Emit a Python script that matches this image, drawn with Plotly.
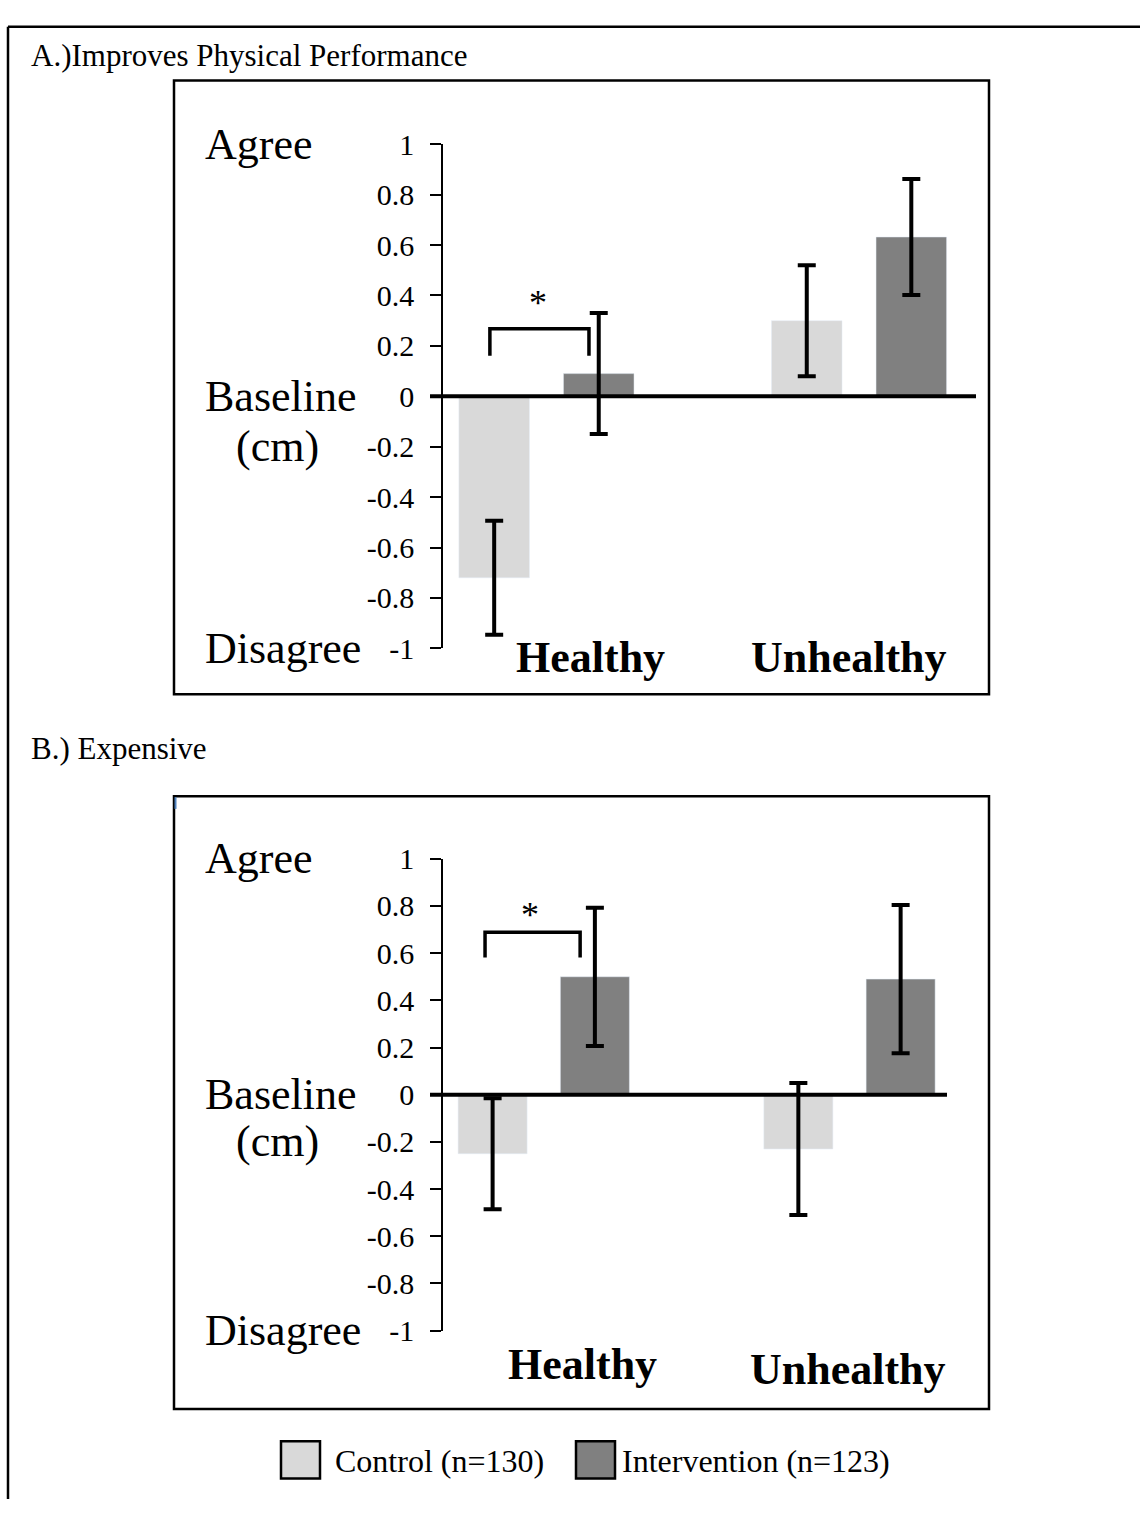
import plotly.graph_objects as go

W, H = 1140, 1515

categories = ["Healthy", "Unhealthy"]

# Panel A: Improves Physical Performance
a_control = [-0.72, 0.30]
a_control_err = [0.226, 0.22]
a_interv = [0.09, 0.632]
a_interv_err = [0.24, 0.23]

# Panel B: Expensive
b_control = [-0.25, -0.23]
b_control_err = [0.235, 0.28]
b_interv = [0.50, 0.49]
b_interv_err = [0.293, 0.314]

tick_vals = [1, 0.8, 0.6, 0.4, 0.2, 0, -0.2, -0.4, -0.6, -0.8, -1]
tick_text = ["1", "0.8", "0.6", "0.4", "0.2", "0", "-0.2", "-0.4", "-0.6", "-0.8", "-1"]

series_names = ["Control (n=130)", "Intervention (n=123)"]
titles = ["A.)Improves Physical Performance", "B.) Expensive"]

C_LIGHT = "#d9d9d9"
C_DARK = "#808080"
SERIF = "Liberation Serif, Times New Roman, serif"


def px(x):
    return x / W


def py(y):
    return 1 - y / H


fig = go.Figure()

err_style = dict(type="data", symmetric=True, color="black", thickness=4, width=9)

fig.add_trace(go.Bar(x=categories, y=a_control, name=series_names[0], marker_color=C_LIGHT,
                     error_y=dict(array=a_control_err, **err_style), xaxis="x", yaxis="y",
                     showlegend=False))
fig.add_trace(go.Bar(x=categories, y=a_interv, name=series_names[1], marker_color=C_DARK,
                     error_y=dict(array=a_interv_err, **err_style), xaxis="x", yaxis="y",
                     showlegend=False))
fig.add_trace(go.Bar(x=categories, y=b_control, name=series_names[0], marker_color=C_LIGHT,
                     error_y=dict(array=b_control_err, **err_style), xaxis="x2", yaxis="y2",
                     showlegend=False))
fig.add_trace(go.Bar(x=categories, y=b_interv, name=series_names[1], marker_color=C_DARK,
                     error_y=dict(array=b_interv_err, **err_style), xaxis="x2", yaxis="y2",
                     showlegend=False))

yax = dict(range=[-1, 1], tickvals=tick_vals, ticktext=tick_text, showline=True,
           linecolor="black", linewidth=1.5, ticks="outside", ticklen=11, tickwidth=1.5,
           tickcolor="black", showgrid=False, zeroline=False, ticklabelstandoff=10,
           tickfont=dict(family=SERIF, size=30, color="black"))
xax = dict(type="category", showticklabels=False, showline=False, showgrid=False,
           zeroline=False, ticks="", domain=[px(443), px(975)])

fig.update_layout(
    width=W, height=H, margin=dict(l=0, r=0, t=0, b=0),
    paper_bgcolor="white", plot_bgcolor="rgba(0,0,0,0)",
    barmode="group", bargap=0.331, bargroupgap=0.325,
    showlegend=False,
    xaxis=dict(**xax, range=[-0.331, 1.371], anchor="y"),
    yaxis=dict(**yax, domain=[py(646), py(131)], anchor="x"),
    xaxis2=dict(**xax, range=[-0.3295, 1.4105], anchor="y2"),
    yaxis2=dict(**yax, domain=[py(1343), py(861)], anchor="x2"),
)

shapes = []
# outer frame (top and left only)
shapes.append(dict(type="line", xref="paper", yref="paper", x0=px(8), x1=1.0, y0=py(11), y1=py(11),
                   line=dict(color="black", width=2.5)))
shapes.append(dict(type="line", xref="paper", yref="paper", x0=px(8), x1=px(8), y0=py(11), y1=0,
                   line=dict(color="black", width=2.5)))
# panel boxes
shapes.append(dict(type="rect", xref="paper", yref="paper", x0=px(174), x1=px(989), y0=py(693), y1=py(66),
                   line=dict(color="black", width=2.5)))
shapes.append(dict(type="rect", xref="paper", yref="paper", x0=px(174), x1=px(989), y0=py(1423), y1=py(797),
                   line=dict(color="black", width=2.5)))
shapes.append(dict(type="line", xref="paper", yref="paper", x0=px(175.5), x1=px(175.5), y0=py(798), y1=py(810),
                   line=dict(color="#4f81bd", width=2)))
# zero (baseline) lines
shapes.append(dict(type="line", xref="paper", yref="y", x0=px(430), x1=px(976), y0=0, y1=0,
                   line=dict(color="black", width=4)))
shapes.append(dict(type="line", xref="paper", yref="y2", x0=px(430), x1=px(947), y0=0, y1=0,
                   line=dict(color="black", width=4)))
# significance brackets
for xr, yr, xl, xrr, ytop, ybot in [("x", "y", -0.181, 0.136, 0.268, 0.161),
                                     ("x2", "y2", -0.192, 0.119, 0.689, 0.582)]:
    shapes.append(dict(type="path", xref=xr, yref=yr,
                       path=f"M {xl} {ybot} L {xl} {ytop} L {xrr} {ytop} L {xrr} {ybot}",
                       line=dict(color="black", width=3.5)))
# legend swatches
shapes.append(dict(type="rect", xref="paper", yref="paper", x0=px(281), x1=px(320), y0=py(1494), y1=py(1456),
                   fillcolor=C_LIGHT, line=dict(color="black", width=2.5)))
shapes.append(dict(type="rect", xref="paper", yref="paper", x0=px(576), x1=px(615), y0=py(1494), y1=py(1456),
                   fillcolor=C_DARK, line=dict(color="black", width=2.5)))

annotations = []


def ann(text, x, y, size, xanchor="left", bold=False, xref="paper", yref="paper", yshift=0):
    annotations.append(dict(text=f"<b>{text}</b>" if bold else text, x=x, y=y, xref=xref, yref=yref,
                            xanchor=xanchor, yanchor="middle", showarrow=False, yshift=yshift,
                            font=dict(family=SERIF, size=size, color="black")))


ann(titles[0], px(29), py(40), 31)
ann(titles[1], px(29), py(748), 31)

for yr in ["y", "y2"]:
    ann("Agree", px(203), 1, 44, yref=yr)
    ann("Baseline", px(203), 0, 44, yref=yr)
    ann("(cm)", px(277), -0.2, 44, xanchor="center", yref=yr)
    ann("Disagree", px(203), -1, 44, yref=yr)

ann(categories[0], px(590), py(655), 44, xanchor="center", bold=True)
ann(categories[1], px(849), py(655), 44, xanchor="center", bold=True)
ann(categories[0], px(582), py(1378), 44, xanchor="center", bold=True)
ann(categories[1], px(848), py(1383), 44, xanchor="center", bold=True)

ann("*", -0.027, 0.39, 36, xanchor="center", xref="x", yref="y", yshift=-5)
ann("*", -0.045, 0.80, 36, xanchor="center", xref="x2", yref="y2", yshift=-9)

ann(series_names[0], px(333), py(1476), 32)
ann(series_names[1], px(620), py(1476), 32)

fig.update_layout(shapes=shapes, annotations=annotations)

fig.write_html("out.html")
